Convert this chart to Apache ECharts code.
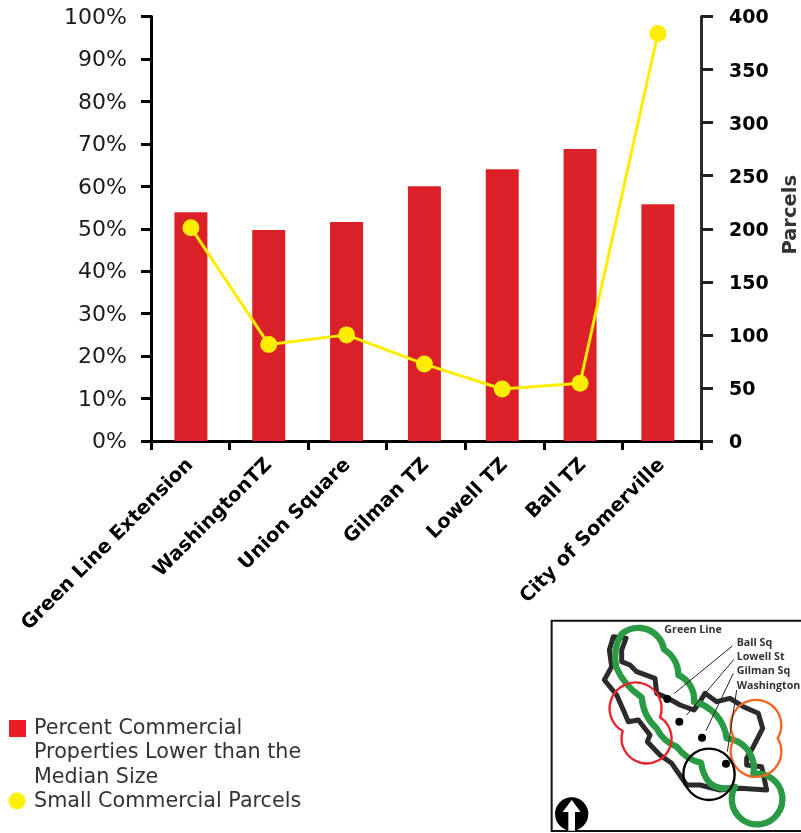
<!DOCTYPE html>
<html>
<head>
<meta charset="utf-8">
<style>html,body{margin:0;padding:0;background:#fff}#c{width:801px;height:833px}</style>
<script src="https://cdn.jsdelivr.net/npm/echarts@6/dist/echarts.min.js"></script>
</head>
<body>
<div id="c"></div>
<script>
// Commercial parcel statistics by transit zone
const categories = ['Green Line Extension', 'WashingtonTZ', 'Union Square', 'Gilman TZ', 'Lowell TZ', 'Ball TZ', 'City of Somerville'];
const percentLower = [53.9, 49.7, 51.6, 60, 64, 68.8, 55.8];
const smallParcels = [201, 91, 100, 72.5, 49, 54.5, 384];
const percentName = 'Percent Commercial\nProperties Lower than the\nMedian Size';
const parcelName = 'Small Commercial Parcels';

// Locator map outlines, in map units (three units to a pixel)
const corridor = 'M258,85 L220,80 L208,120 L215,170 L193,210 L230,255 L250,300 L265,335 L295,330 L330,375 L322,395 L360,435 L395,460 L440,525 L480,525 L540,540 L600,535 L680,540 L665,470 L620,465 L620,445 L640,410 L668,355 L655,310 L610,290 L570,265 L530,275 L495,250 L480,275 L462,300 L420,285 L385,265 L350,250 L345,205 L290,185 L270,165 L245,155 L245,120 L258,85';
const greenBuffer = 'M245,72 A78,78 0 0 1 372,118 A90,90 0 0 1 415,195 A80,80 0 0 1 462,275 A130,130 0 0 1 560,385 A90,90 0 0 1 640,492 A76,76 0 1 1 585,530 Q545,545 510,520 Q488,495 483,458 Q440,450 410,410 Q370,395 350,355 Q310,320 305,262 Q250,225 228,170 Q218,115 245,72';
const redBuffer = 'M360,322 A78,78 0 1 0 248,363 A75,75 0 1 0 360,322 Z';
const orangeBuffer = 'M713,385 A76,76 0 1 0 583,385 A76,76 0 1 0 713,385 Z';
const stations = [[382,267],[418,335],[486,383],[558,461]];
const leaders = [[[403,250],[577,108]],[[440,315],[582,148]],[[498,362],[580,190]],[[562,425],[590,240]]];
const mapLabels = [['Green Line',373,60],['Ball Sq',590,100],['Lowell St',590,142],['Gilman Sq',590,184],['Washington',590,228]];
const arrow = [[95,570],[122,606],[105,606],[105,662],[85,662],[85,606],[68,606]];

const textDark = '#333';
const chart = echarts.init(document.getElementById('c'), null, {renderer: 'canvas'});

// Registers an SVG path as a named shape so the graphic component can draw it
function outline(name, pathData, color, width) {
  echarts.graphic.registerShape(name, echarts.graphic.extendPath(pathData, {}));
  return {type: name,
    style: {stroke: color, lineWidth: width, fill: null, lineJoin: 'round', lineCap: 'round'}};
}

const mapChildren = [
  {type: 'rect', shape: {x: 35, y: 32, width: 800, height: 631},
    style: {fill: '#fff', stroke: '#111', lineWidth: 6}},
  outline('mapCorridor', corridor, '#2b2b2b', 15),
  outline('mapGreen', greenBuffer, '#2a9a44', 19),
  outline('mapRed', redBuffer, '#ec2027', 7),
  outline('mapOrange', orangeBuffer, '#f26522', 7),
  {type: 'circle', shape: {cx: 507, cy: 493, r: 77}, style: {fill: null, stroke: '#000', lineWidth: 7}},
  ...stations.map(s => ({type: 'circle', shape: {cx: s[0], cy: s[1], r: 12}, style: {fill: '#000'}})),
  ...leaders.map(l => ({type: 'line', shape: {x1: l[0][0], y1: l[0][1], x2: l[1][0], y2: l[1][1]},
    style: {stroke: '#222', lineWidth: 3}})),
  ...mapLabels.map(t => ({type: 'text', x: t[1], y: t[2],
    style: {text: t[0], fill: '#333', font: 'bold 32px "Open Sans"', verticalAlign: 'middle'}})),
  {type: 'circle', shape: {cx: 95, cy: 612, r: 50}, style: {fill: '#000'}},
  {type: 'polygon', shape: {points: arrow}, style: {fill: '#fff'}}
];

chart.setOption({
  animation: false,
  backgroundColor: '#fff',
  // Grid 0 carries the visible axes, grid 1 the bars and the line, set slightly tighter
  grid: [
    {left: 151, right: 100, top: 16.5, height: 424.5, outerBoundsMode: 'none'},
    {left: 152, width: 544.8, top: 16.5, height: 424.5, outerBoundsMode: 'none'}
  ],
  xAxis: [{
    type: 'category', gridIndex: 0, data: categories,
    axisLine: {lineStyle: {color: '#000', width: 3}},
    axisTick: {show: true, length: 9, lineStyle: {color: '#000', width: 3}},
    axisLabel: {rotate: 45, interval: 0, margin: 21, color: '#000',
      fontFamily: 'DejaVu Sans', fontWeight: 'bold', fontSize: 19.5}
  }, {
    type: 'category', gridIndex: 1, data: categories, show: false
  }],
  yAxis: [{
    type: 'value', gridIndex: 0, min: 0, max: 100, interval: 10,
    splitLine: {show: false},
    axisLine: {show: true, lineStyle: {color: '#000', width: 3}},
    axisTick: {show: true, length: 10, lineStyle: {color: '#000', width: 3}},
    axisLabel: {formatter: '{pct|{value}%}', margin: 24,
      rich: {pct: {padding: [3, 0, 0, 0], color: '#1a1a1a', fontFamily: 'DejaVu Sans', fontSize: 22}}}
  }, {
    type: 'value', gridIndex: 0, min: 0, max: 400, interval: 50, position: 'right',
    splitLine: {show: false},
    name: 'Parcels', nameLocation: 'middle', nameRotate: 90, nameGap: 80,
    nameTextStyle: {fontFamily: 'DejaVu Sans', fontWeight: 'bold', fontSize: 19.5, color: textDark,
      padding: [0, 0, 0, 28]},
    axisLine: {show: true, lineStyle: {color: '#2b2b2b', width: 3}},
    axisTick: {show: true, length: 12, lineStyle: {color: '#222', width: 3}},
    axisLabel: {formatter: '{num|{value}}', margin: 28,
      rich: {num: {padding: [4, 0, 0, 0], color: '#000', fontFamily: 'DejaVu Sans', fontWeight: 'bold', fontSize: 19}}}
  }, {
    type: 'value', gridIndex: 1, min: 0, max: 100, show: false, splitLine: {show: false}
  }, {
    type: 'value', gridIndex: 1, min: 0, max: 400, show: false, splitLine: {show: false}
  }],
  series: [{
    name: percentName, type: 'bar', xAxisIndex: 1, yAxisIndex: 2, data: percentLower,
    barWidth: 33, itemStyle: {color: '#dc2027'}
  }, {
    name: parcelName, type: 'line', xAxisIndex: 1, yAxisIndex: 3, data: smallParcels,
    symbol: 'circle', symbolSize: 17,
    lineStyle: {color: '#ffed00', width: 3}, itemStyle: {color: '#ffed00'}
  }],
  graphic: [
    {type: 'rect', shape: {x: 9, y: 720, width: 17, height: 17}, style: {fill: '#ed1c24'}},
    {type: 'text', x: 34, y: 716, style: {text: percentName, font: '20.7px "DejaVu Sans"', fill: textDark, lineHeight: 24.5}},
    {type: 'circle', shape: {cx: 17, cy: 801, r: 8.5}, style: {fill: '#fff200'}},
    {type: 'text', x: 34, y: 789, style: {text: parcelName, font: '20.7px "DejaVu Sans"', fill: textDark, lineHeight: 24.5}},
    {type: 'group', x: 540, y: 610, scaleX: 1 / 3, scaleY: 1 / 3, children: mapChildren}
  ]
});
</script>
</body>
</html>
